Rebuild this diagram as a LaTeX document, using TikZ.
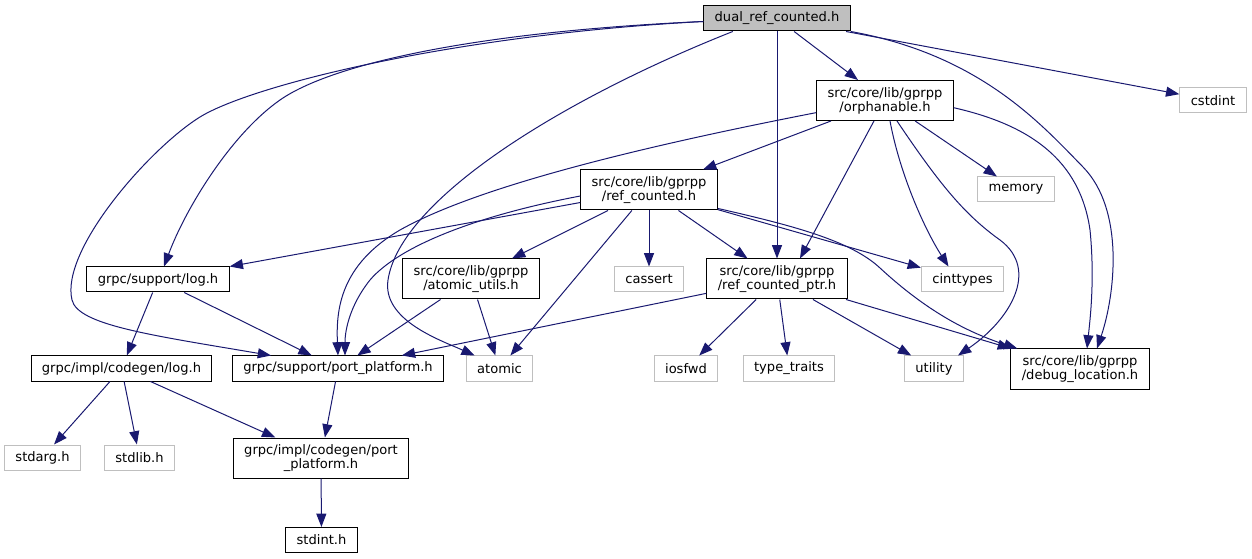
\documentclass[tikz,border=0pt]{standalone}
\usepackage{fontspec}
\setmainfont{DejaVu Sans}
\usetikzlibrary{arrows.meta}
\usetikzlibrary{calc}
\definecolor{edgeblue}{HTML}{191970}
\definecolor{sysgray}{HTML}{BFBFBF}

\begin{document}
\begin{tikzpicture}[x=0.75pt, y=-0.75pt,
    every node/.style={font=\fontsize{9.8}{10.5}\selectfont, inner xsep=8.2pt, align=center},
    hdr/.style={draw=black, line width=0.75pt, minimum height=18.75pt},
    hdrtwo/.style={hdr, minimum height=30pt},
    sys/.style={hdr, draw=sysgray},
    dep/.style={edgeblue, line width=0.75pt, -{Triangle[length=10pt, width=7.5pt]}}]
    \useasboundingbox (0,0) rectangle (1252,559);
    \node [hdr, fill=sysgray] (dual) at (777,18.5) {dual\_ref\_counted.h};
    \node [hdrtwo] (orph) at (885,100.5) {src/core/lib/gprpp\\/orphanable.h};
    \node [sys] (cstdint) at (1213,100.5) {cstdint};
    \node [sys] (memory) at (1016,189.5) {memory};
    \node [hdrtwo] (rc) at (649,190) {src/core/lib/gprpp\\/ref\_counted.h};
    \node [hdr] (log) at (158,279.5) {grpc/support/log.h};
    \node [hdrtwo] (au) at (471,279) {src/core/lib/gprpp\\/atomic\_utils.h};
    \node [sys] (cassert) at (649,279.5) {cassert};
    \node [hdrtwo] (rcp) at (777,279) {src/core/lib/gprpp\\/ref\_counted\_ptr.h};
    \node [sys] (cinttypes) at (962.5,279.5) {cinttypes};
    \node [hdr] (cl) at (121.5,368.5) {grpc/impl/codegen/log.h};
    \node [hdr] (pp) at (338,368.5) {grpc/support/port\_platform.h};
    \node [sys] (atomic) at (499.5,368.5) {atomic};
    \node [sys] (iosfwd) at (686,368.5) {iosfwd};
    \node [sys] (traits) at (789,368.5) {type\_traits};
    \node [sys] (utility) at (934,368.5) {utility};
    \node [hdrtwo] (dl) at (1080,369) {src/core/lib/gprpp\\/debug\_location.h};
    \node [sys] (stdarg) at (42.5,457.5) {stdarg.h};
    \node [sys] (stdlib) at (139.5,457.5) {stdlib.h};
    \node [hdrtwo] (cpp) at (321,458) {grpc/impl/codegen/port\\\_platform.h};
    \node [hdr] (stdint) at (321.5,540) {stdint.h};

    \draw [dep] (dual)--(orph);
    \draw [dep] (dual)--(rcp);
    \draw [dep] (dual)--(cstdint);
    \draw [dep] ($(dual.west)+(0,3)$) .. controls (470,32) and (330,65) .. (280,100) .. controls (230,135) and (185,210) .. ($(log.north)+(6,0)$);
    \draw [dep] ($(dual.west)+(0,3)$) .. controls (450,35) and (250,86) .. (200,117) .. controls (150,148) and (60,250) .. (72,300) .. controls (78,325) and (150,335) .. (pp.169);
    \draw [dep] ($(dual.south west)!0.2!(dual.south east)$) .. controls (560,100) and (400,200) .. (388,280) .. controls (382,320) and (440,340) .. ($(atomic.north west)+(9,0)$);
    \draw [dep] (dual.south east) .. controls (980,55) and (1041,124) .. (1083,167) .. controls (1125,210) and (1115,295) .. ($(dl.north)+(17,0)$);

    \draw [dep] (orph)--(rc);
    \draw [dep] (orph)--($(rcp.north)+(23,0)$);
    \draw [dep] (orph)--(memory);
    \draw [dep] ($(orph.south)+(5,0)$) .. controls (900,175) and (925,230) .. ($(cinttypes.north)+(-14,0)$);
    \draw [dep] ($(orph.south)+(12,0)$) .. controls (940,185) and (965,215) .. (1000,240) .. controls (1040,270) and (1010,320) .. ($(utility.north)+(24,0)$);
    \draw [dep] (orph.-6) .. controls (1030,125) and (1080,160) .. (1090,230) .. controls (1095,280) and (1090,320) .. ($(dl.north)+(7,0)$);
    \draw [dep] (orph.190) .. controls (650,145) and (480,185) .. (400,230) .. controls (340,265) and (336,310) .. (pp.north);

    \draw [dep] (rc)--(log);
    \draw [dep] (rc)--(au);
    \draw [dep] (rc)--(atomic);
    \draw [dep] (rc)--(cassert);
    \draw [dep] (rc)--(rcp);
    \draw [dep] (rc)--(cinttypes);
    \draw [dep] (rc.185) .. controls (480,215) and (400,245) .. (370,280) .. controls (350,305) and (345,330) .. ($(pp.north)+(7,0)$);
    \draw [dep] (rc.-15) .. controls (790,225) and (850,240) .. (880,268) .. controls (920,305) and (960,330) .. ($(dl.north west)+(7,0)$);

    \draw [dep] (rcp)--(pp);
    \draw [dep] (rcp)--(iosfwd);
    \draw [dep] (rcp)--(traits);
    \draw [dep] (rcp)--(utility);
    \draw [dep] (rcp)--(dl);
    \draw [dep] (log)--(cl);
    \draw [dep] (log)--(pp);
    \draw [dep] (au)--(pp);
    \draw [dep] (au)--(atomic);
    \draw [dep] (cl)--(stdarg);
    \draw [dep] (cl)--(stdlib);
    \draw [dep] (cl)--(cpp);
    \draw [dep] (pp)--(cpp);
    \draw [dep] (cpp)--(stdint);
\end{tikzpicture}
\end{document}
